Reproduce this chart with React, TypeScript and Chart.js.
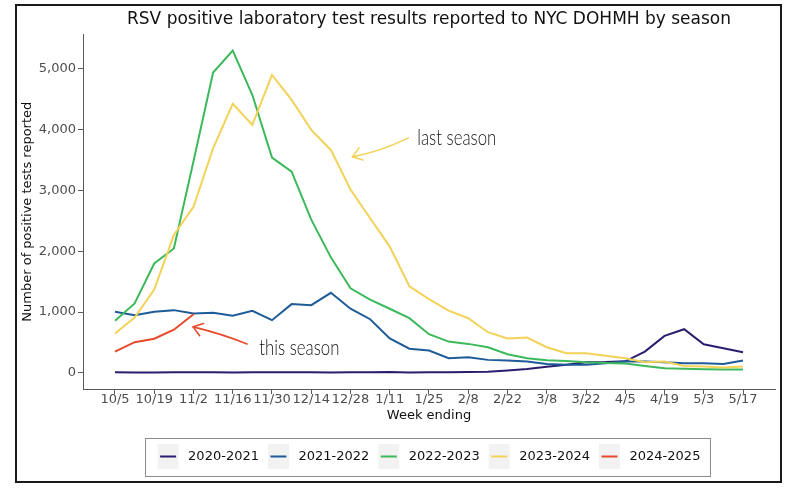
import React, { useEffect, useRef } from 'react';
import { Chart, registerables } from 'chart.js';

Chart.register(...registerables);

// ---- data ----
const weeks = [
  '10/5', '10/12', '10/19', '10/26', '11/2', '11/9', '11/16', '11/23', '11/30', '12/7', '12/14',
  '12/21', '12/28', '1/4', '1/11', '1/18', '1/25', '2/1', '2/8', '2/15', '2/22', '3/1', '3/8',
  '3/15', '3/22', '3/29', '4/5', '4/12', '4/19', '4/26', '5/3', '5/10', '5/17',
];
const tickWeeks = ['10/5', '10/19', '11/2', '11/16', '11/30', '12/14', '12/28', '1/11', '1/25', '2/8', '2/22', '3/8', '3/22', '4/5', '4/19', '5/3', '5/17'];
const seasons = ['2020-2021', '2021-2022', '2022-2023', '2023-2024', '2024-2025'];

const s2020_2021 = [10, 8, 8, 12, 9, 10, 8, 10, 11, 10, 9, 8, 9, 12, 15, 8, 12, 10, 14, 20, 38, 62, 100, 135, 175, 178, 190, 351, 609, 718, 471, 406, 340];
const s2021_2022 = [1004, 950, 1004, 1032, 977, 988, 939, 1021, 867, 1131, 1114, 1317, 1056, 883, 567, 398, 367, 241, 258, 214, 203, 186, 148, 132, 132, 159, 186, 186, 175, 159, 159, 148, 203];
const s2022_2023 = [856, 1142, 1800, 2047, 3480, 4940, 5300, 4570, 3540, 3310, 2520, 1900, 1390, 1205, 1055, 900, 636, 515, 477, 422, 307, 241, 208, 197, 175, 164, 153, 115, 77, 66, 60, 55, 55];
const s2023_2024 = [648, 911, 1372, 2267, 2733, 3694, 4424, 4078, 4901, 4490, 3996, 3667, 3015, 2543, 2077, 1424, 1212, 1025, 899, 669, 565, 581, 422, 323, 323, 280, 241, 175, 186, 115, 104, 88, 104];
const s2024_2025 = [350, 505, 562, 710, 965];
const seriesValues = [s2020_2021, s2021_2022, s2022_2023, s2023_2024, s2024_2025];

const yTicks = [0, 1000, 2000, 3000, 4000, 5000];

// ---- styles ----
const seasonColors = ['#2b1d6e', '#1e5c99', '#3cb95b', '#f2d257', '#e8482b'];
const FONT = 'DejaVu Sans';

// annotations, anchored in data units (week index, count)
const notes = [
  { text: 'last season', series: 3, label: [15.4, 3750], from: [14.95, 3865], to: [12.1, 3553], bend: 4 },
  { text: 'this season', series: 4, label: [7.35, 296], from: [6.73, 477], to: [3.98, 757], bend: -2 },
];

const decorPlugin = {
  id: 'decor',
  beforeDraw(chart: any) {
    const ctx = chart.ctx;
    const legend = chart.legend;
    if (legend && legend.legendHitBoxes && legend.legendHitBoxes.length) {
      const hb = legend.legendHitBoxes;
      const items = legend.legendItems;
      const first = hb[0];
      const last = hb[hb.length - 1];
      const cy = first.top + first.height / 2;
      ctx.save();
      ctx.strokeStyle = '#8c8c8c';
      ctx.lineWidth = 1;
      const bx = Math.round(first.left - 13) + 0.5;
      const bw = Math.round(last.left + last.width + 9 - (first.left - 13));
      ctx.strokeRect(bx, Math.round(cy - 19) + 0.5, bw, 38);
      hb.forEach((b: any, i: number) => {
        const di = items[i].datasetIndex;
        ctx.fillStyle = '#f2f2f2';
        ctx.fillRect(b.left, cy - 12.5, 21, 25);
        ctx.strokeStyle = seasonColors[di];
        ctx.lineWidth = 2;
        ctx.beginPath();
        ctx.moveTo(b.left + 2.5, cy);
        ctx.lineTo(b.left + 18.5, cy);
        ctx.stroke();
      });
      ctx.restore();
    }
  },
  afterDraw(chart: any) {
    const ctx = chart.ctx;
    const xs = chart.scales.x;
    const ys = chart.scales.y;
    ctx.save();
    for (const n of notes) {
      const color = seasonColors[n.series];
      const sx = xs.getPixelForValue(n.from[0]);
      const sy = ys.getPixelForValue(n.from[1]);
      const tx = xs.getPixelForValue(n.to[0]);
      const ty = ys.getPixelForValue(n.to[1]);
      const mx = (sx + tx) / 2;
      const my = (sy + ty) / 2;
      const len = Math.hypot(sx - tx, sy - ty);
      const nx = -(sy - ty) / len;
      const ny = (sx - tx) / len;
      ctx.strokeStyle = color;
      ctx.lineWidth = 1.6;
      ctx.lineCap = 'round';
      ctx.beginPath();
      ctx.moveTo(sx, sy);
      ctx.quadraticCurveTo(mx + nx * n.bend, my + ny * n.bend, tx, ty);
      ctx.stroke();
      const ang = Math.atan2(sy - ty, sx - tx);
      ctx.beginPath();
      for (const d of [-0.62, 0.62]) {
        ctx.moveTo(tx, ty);
        ctx.lineTo(tx + 11 * Math.cos(ang + d), ty + 11 * Math.sin(ang + d));
      }
      ctx.stroke();
      const lx = xs.getPixelForValue(n.label[0]);
      const ly = ys.getPixelForValue(n.label[1]);
      ctx.save();
      ctx.translate(lx, ly);
      ctx.scale(0.8, 1);
      ctx.font = '300 21px Lato';
      ctx.fillStyle = '#151515';
      ctx.textBaseline = 'alphabetic';
      ctx.textAlign = 'left';
      ctx.fillText(n.text, 0, 0);
      ctx.restore();
    }
    // outer frame
    ctx.strokeStyle = '#1a1a1a';
    ctx.lineWidth = 2;
    ctx.strokeRect(16, 5, 765, 477);
    ctx.restore();
  },
};

export default function App() {
  const canvasRef = useRef<HTMLCanvasElement | null>(null);

  useEffect(() => {
    if (!canvasRef.current) return;
    const datasets = seasons.map((label, i) => ({
      label,
      data: seriesValues[i].map((v, k) => ({ x: k, y: v })),
      borderColor: seasonColors[i],
      backgroundColor: seasonColors[i],
      borderWidth: 2,
      pointRadius: 0,
      tension: 0,
      fill: false,
      order: seasons.length - i,
    }));

    const axisColor = '#5a5a5a';
    const tickColor = '#4d4d4d';

    const chart = new Chart(canvasRef.current, {
      type: 'line',
      data: { datasets },
      plugins: [decorPlugin],
      options: {
        animation: false,
        responsive: false,
        layout: { padding: { left: 17, right: 25, top: 0, bottom: 17 } },
        font: { family: FONT },
        scales: {
          x: {
            type: 'linear',
            min: -1.63,
            max: 33.63,
            afterBuildTicks: (scale: any) => {
              scale.ticks = tickWeeks.map((w) => ({ value: weeks.indexOf(w) }));
            },
            afterFit: (scale: any) => {
              scale.height = 52;
            },
            ticks: {
              autoSkip: false,
              maxRotation: 0,
              minRotation: 0,
              padding: -2,
              color: tickColor,
              font: { family: FONT, size: 13 },
              callback: (value: any) => weeks[Number(value)] ?? '',
            },
            grid: { display: true, drawOnChartArea: false, drawTicks: true, tickLength: 5, color: axisColor, lineWidth: 1 },
            border: { display: true, color: axisColor, width: 1 },
            title: {
              display: true,
              text: 'Week ending',
              color: '#111',
              font: { family: FONT, size: 13 },
              padding: { top: 0, bottom: 18 },
            },
          },
          y: {
            type: 'linear',
            min: -265,
            max: 5567,
            afterBuildTicks: (scale: any) => {
              scale.ticks = yTicks.map((v) => ({ value: v }));
            },
            afterFit: (scale: any) => {
              scale.width = 66;
            },
            ticks: {
              padding: 2,
              color: tickColor,
              font: { family: FONT, size: 13 },
              callback: (value: any) => Number(value).toLocaleString('en-US'),
            },
            grid: { display: true, drawOnChartArea: false, drawTicks: true, tickLength: 5, color: axisColor, lineWidth: 1 },
            border: { display: true, color: axisColor, width: 1 },
            title: {
              display: true,
              text: 'Number of positive tests reported',
              color: '#111',
              font: { family: FONT, size: 13 },
              padding: { top: 3, bottom: 0 },
            },
          },
        },
        plugins: {
          title: {
            display: true,
            text: 'RSV positive laboratory test results reported to NYC DOHMH by season',
            color: '#111',
            font: { family: FONT, size: 17, weight: 'normal' },
            padding: { top: 9, bottom: 5 },
            fullSize: false,
          },
          legend: {
            display: true,
            position: 'bottom',
            fullSize: false,
            labels: {
              boxWidth: 24,
              boxHeight: 13,
              padding: 9,
              color: '#111',
              font: { family: FONT, size: 13 },
              sort: (a: any, b: any) => a.datasetIndex - b.datasetIndex,
              generateLabels: (c: any) => {
                const base = (Chart.defaults.plugins.legend.labels as any).generateLabels(c);
                return base.map((it: any) => ({
                  ...it,
                  fillStyle: 'rgba(0,0,0,0)',
                  strokeStyle: 'rgba(0,0,0,0)',
                  lineWidth: 0,
                }));
              },
            },
          },
          tooltip: { enabled: false },
        },
      } as any,
    });
    return () => chart.destroy();
  }, []);

  return (
    <div style={{ position: 'absolute', left: 0, top: 0, width: 800, height: 490, background: '#fff' }}>
      <canvas ref={canvasRef} width={800} height={490} style={{ width: 800, height: 490, display: 'block' }} />
    </div>
  );
}
